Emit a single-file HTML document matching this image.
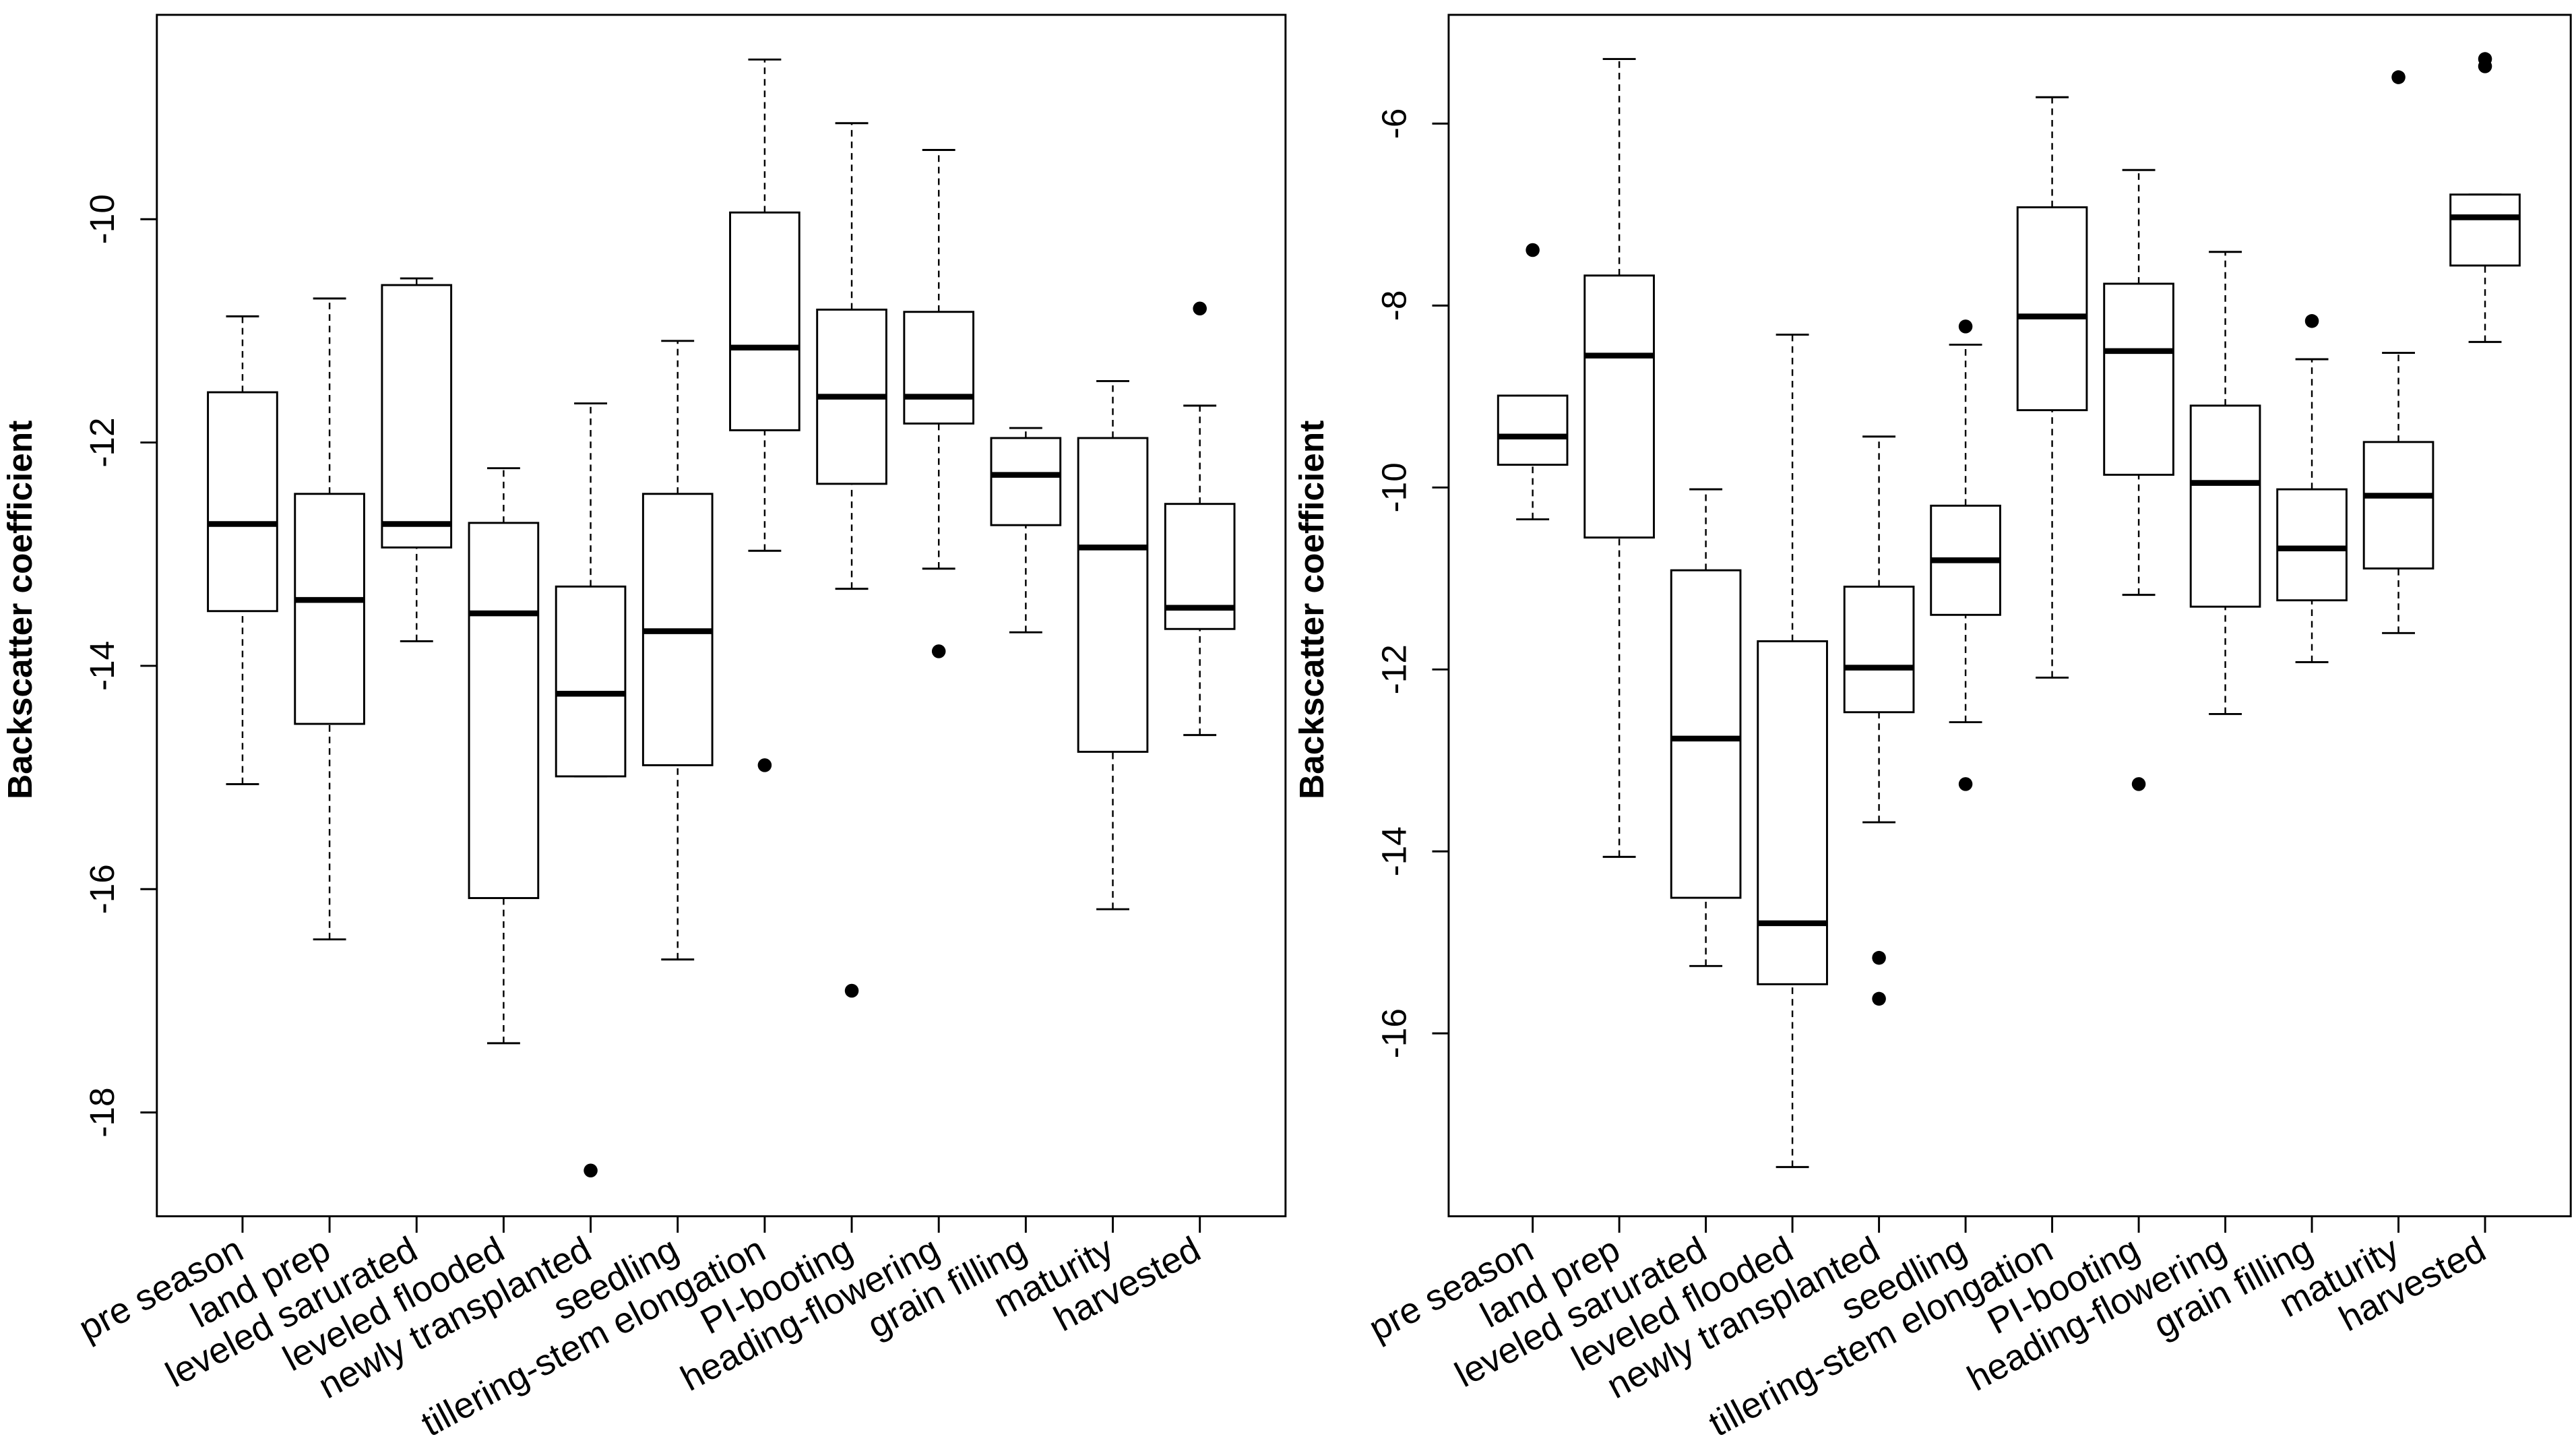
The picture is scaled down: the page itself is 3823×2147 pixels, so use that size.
<!DOCTYPE html>
<html><head><meta charset="utf-8"><style>
html,body{margin:0;padding:0;background:#fff;}
svg{display:block;}
text{font-family:"Liberation Sans",Arial,sans-serif;fill:#000;}
</style></head>
<body>
<svg id="chart" width="3823" height="2147" viewBox="0 0 1563 878" xmlns="http://www.w3.org/2000/svg">
<rect width="1563" height="878" fill="#fff"/>
</svg>
<script>
const categories = ["pre season","land prep","leveled sarurated","leveled flooded","newly transplanted","seedling","tillering-stem elongation","PI-booting","heading-flowering","grain filling","maturity","harvested"];
// [low whisker, q1, median, q3, high whisker]
const leftStats = [
 [-15.06,-13.51,-12.73,-11.55,-10.87],
 [-16.45,-14.52,-13.41,-12.46,-10.71],
 [-13.78,-12.94,-12.73,-10.59,-10.53],
 [-17.38,-16.08,-13.53,-12.72,-12.23],
 [-14.99,-14.99,-14.25,-13.29,-11.65],
 [-16.63,-14.89,-13.69,-12.46,-11.09],
 [-12.97,-11.89,-11.15,-9.94,-8.57],
 [-13.31,-12.37,-11.59,-10.81,-9.14],
 [-13.13,-11.83,-11.59,-10.83,-9.38],
 [-13.70,-12.74,-12.29,-11.96,-11.87],
 [-16.18,-14.77,-12.94,-11.96,-11.45],
 [-14.62,-13.67,-13.48,-12.55,-11.67]
];
const leftOutliers = [[],[],[],[],[-18.52],[],[-14.89],[-16.91],[-13.87],[],[],[-10.80]];
const leftTicks = [-10,-12,-14,-16,-18];
const rightStats = [
 [-10.35,-9.75,-9.44,-8.99,-8.99],
 [-14.06,-10.55,-8.55,-7.67,-5.29],
 [-15.26,-14.51,-12.76,-10.91,-10.02],
 [-17.47,-15.46,-14.79,-11.69,-8.32],
 [-13.68,-12.47,-11.98,-11.09,-9.44],
 [-12.58,-11.40,-10.80,-10.20,-8.43],
 [-12.09,-9.15,-8.12,-6.92,-5.71],
 [-11.18,-9.86,-8.50,-7.76,-6.51],
 [-12.49,-11.31,-9.95,-9.10,-7.41],
 [-11.92,-11.24,-10.67,-10.02,-8.59],
 [-11.60,-10.89,-10.09,-9.50,-8.52],
 [-8.40,-7.56,-7.03,-6.78,-6.78]
];
const rightOutliers = [[-7.39],[],[],[],[-15.17,-15.62],[-8.23,-13.26],[],[-13.26],[],[-8.17],[-5.49],[-5.29,-5.37]];
const rightTicks = [-6,-8,-10,-12,-14,-16];

const NS="http://www.w3.org/2000/svg";
const svg=document.getElementById('chart');
function mk(tag,attrs,parent){const e=document.createElementNS(NS,tag);for(const k in attrs)e.setAttribute(k,attrs[k]);(parent||svg).appendChild(e);return e;}

function panel(cfg,stats,outl,ticks,name){
  const g=mk('g',{});
  
  
  const y=v=>cfg.y0+(cfg.v0-v)*cfg.ppu;
  const x=i=>cfg.x1+(cfg.x12-cfg.x1)*i/11;
  const frame=mk('rect',{x:cfg.L,y:9,width:cfg.R-cfg.L,height:729,fill:'none',stroke:'#000','stroke-width':1.2},g);
  
  
  ticks.forEach(t=>{
    mk('line',{x1:cfg.L-10,x2:cfg.L,y1:y(t),y2:y(t),stroke:'#000','stroke-width':1.2},g);
    const tx=mk('text',{x:0,y:0,'font-size':21,'text-anchor':'middle',transform:`translate(${cfg.L-26},${y(t)}) rotate(-90)`},g);
    tx.textContent=String(t);
    
    
  });
  const yt=mk('text',{x:0,y:0,'font-size':21,'font-weight':'bold','text-anchor':'middle',transform:`translate(${cfg.L-76},370) rotate(-90)`},g);
  yt.textContent='Backscatter coefficient';
  
  
  const hw=21;
  stats.forEach((s,i)=>{
    const cx=x(i);
    const bg=mk('g',{},g);
    
    
    mk('line',{x1:cx,x2:cx,y1:y(s[0]),y2:y(s[1]),stroke:'#000','stroke-dasharray':'4,3','stroke-width':1},bg);
    mk('line',{x1:cx,x2:cx,y1:y(s[3]),y2:y(s[4]),stroke:'#000','stroke-dasharray':'4,3','stroke-width':1},bg);
    mk('line',{x1:cx-10,x2:cx+10,y1:y(s[0]),y2:y(s[0]),stroke:'#000','stroke-width':1.2},bg);
    mk('line',{x1:cx-10,x2:cx+10,y1:y(s[4]),y2:y(s[4]),stroke:'#000','stroke-width':1.2},bg);
    mk('rect',{x:cx-hw,y:y(s[3]),width:2*hw,height:y(s[1])-y(s[3]),fill:'#fff',stroke:'#000','stroke-width':1.2},bg);
    mk('line',{x1:cx-hw,x2:cx+hw,y1:y(s[2]),y2:y(s[2]),stroke:'#000','stroke-width':3.5},bg);
    outl[i].forEach(o=>{
      const c=mk('circle',{cx:cx,cy:y(o),r:4.2,fill:'#000'},bg);
      
      
    });
    mk('line',{x1:cx,x2:cx,y1:738,y2:748,stroke:'#000','stroke-width':1.2},g);
    const lb=mk('text',{x:0,y:0,'font-size':22,'text-anchor':'end',transform:`translate(${cx+2},${763}) rotate(-28)`},g);
    lb.textContent=categories[i];
    
    
  });
}
panel({L:95,R:780,y0:133,v0:-10,ppu:67.75,x1:147,x12:728},leftStats,leftOutliers,leftTicks,'left-panel');
panel({L:879,R:1560,y0:75,v0:-6,ppu:55.2,x1:930,x12:1508},rightStats,rightOutliers,rightTicks,'right-panel');
</script>
</body></html>
